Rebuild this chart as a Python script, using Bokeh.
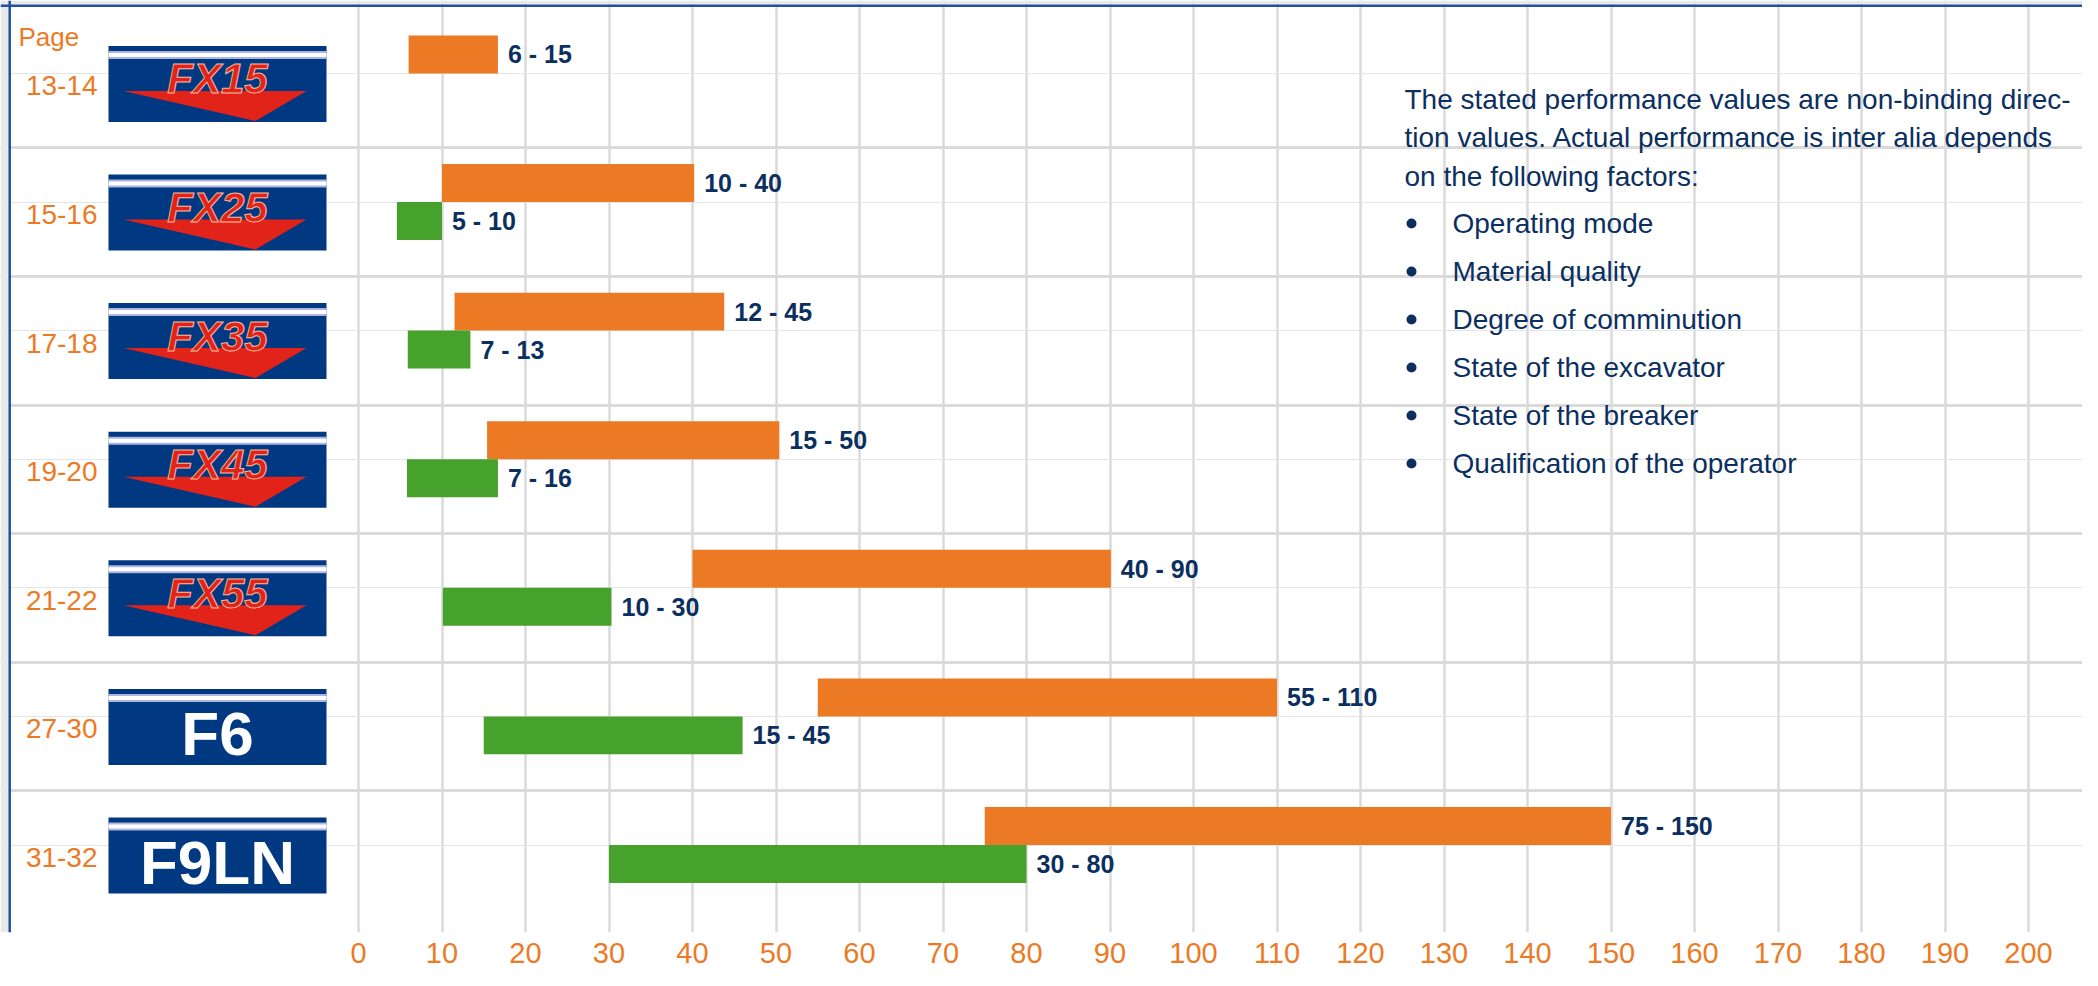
import math
from bokeh.plotting import figure
from bokeh.models import Range1d, FixedTicker, Grid, Span, ColumnDataSource
from bokeh.core.properties import value
from bokeh.embed import file_html
from bokeh.resources import INLINE

# ---------------- data ----------------
models = ["FX15", "FX25", "FX35", "FX45", "FX55", "F6", "F9LN"]
pages = ["13-14", "15-16", "17-18", "19-20", "21-22", "27-30", "31-32"]
orange_lo = [6, 10, 11.5, 15.4, 40, 55, 75]
orange_hi = [16.7, 40.2, 43.8, 50.4, 90.1, 110, 150]
orange_txt = ["6 - 15", "10 - 40", "12 - 45", "15 - 50", "40 - 90", "55 - 110", "75 - 150"]
green_lo = [None, 4.6, 5.9, 5.8, 10.1, 15, 30]
green_hi = [None, 10, 13.4, 16.7, 30.3, 46, 80]
green_txt = [None, "5 - 10", "7 - 13", "7 - 16", "10 - 30", "15 - 45", "30 - 80"]
x_ticks = list(range(0, 201, 10))
note_lines = [
    "The stated performance values are non-binding direc-",
    "tion values. Actual performance is inter alia depends",
    "on the following factors:",
]
factors = [
    "Operating mode",
    "Material quality",
    "Degree of comminution",
    "State of the excavator",
    "State of the breaker",
    "Qualification of the operator",
]

# ---------------- style / layout ----------------
FONT = "Liberation Sans"
ORANGE = "#ec7a25"
GREEN = "#46a12d"
NAVY = "#0b2f5f"
GRID = "#dadada"
LOGO_BLUE = "#003882"
LOGO_RED = "#e2231a"
FRAME_BLUE = "#23509c"
PAGE_GRAY = "#e8eaea"

FIG_W, FIG_H = 2082, 970
FRAME_H = 932
PX0, PXU = 358.0, 8.35        # pixel x of value 0, pixels per unit
ROW0, ROWP = 72.9, 128.6      # pixel y of first row junction, row pitch


def px(X):
    return (X - PX0) / PXU


def py(Y):
    return (Y - ROW0) / ROWP


p = figure(width=FIG_W, height=FIG_H, frame_width=FIG_W, frame_height=FRAME_H,
           x_range=Range1d(px(0), px(FIG_W)),
           y_range=Range1d(py(FRAME_H), py(0)),
           output_backend="svg", toolbar_location=None,
           y_axis_location=None, x_axis_location="below",
           min_border_left=0, min_border_right=0, min_border_top=0, min_border_bottom=FIG_H - FRAME_H,
           background_fill_color="white", border_fill_color="white")
p.outline_line_color = None

ax = p.xaxis[0]
ax.ticker = FixedTicker(ticks=x_ticks)
ax.axis_line_color = None
ax.major_tick_line_color = None
ax.minor_tick_line_color = None
ax.major_label_text_color = ORANGE
ax.major_label_text_font = FONT
ax.major_label_text_font_size = "29px"
ax.major_label_standoff = 4

p.xgrid.ticker = FixedTicker(ticks=x_ticks)
p.xgrid.grid_line_color = GRID
p.xgrid.grid_line_width = 2.5

n = len(models)
p.add_layout(Grid(dimension=1, ticker=FixedTicker(ticks=[i - 0.42 for i in range(1, n)]),
                  grid_line_color=GRID, grid_line_width=3))

# page background outside the framed box + frame lines
p.quad(left=[px(0), px(0)], right=[px(8), px(FIG_W)], top=[py(0), py(0)], bottom=[py(FRAME_H), py(4)],
       fill_color=PAGE_GRAY, line_color=None)
p.add_layout(Span(location=px(9.2), dimension="height", line_color=FRAME_BLUE, line_width=2.5))
p.add_layout(Span(location=py(5.2), dimension="width", line_color=FRAME_BLUE, line_width=2.5))

# ---------------- bars ----------------
BAR_H = 0.295
osrc = ColumnDataSource(dict(y=[i - BAR_H / 2 for i in range(n)], lo=orange_lo, hi=orange_hi, t=orange_txt))
gi = [i for i in range(n) if green_lo[i] is not None]
gsrc = ColumnDataSource(dict(y=[i + BAR_H / 2 for i in gi], lo=[green_lo[i] for i in gi],
                             hi=[green_hi[i] for i in gi], t=[green_txt[i] for i in gi]))
for src, col in ((osrc, ORANGE), (gsrc, GREEN)):
    p.hbar(y="y", left="lo", right="hi", height=BAR_H, source=src, fill_color=col, line_color=None)
    p.text(x="hi", y="y", text="t", source=src, x_offset=10, text_baseline="middle", text_align="left",
           text_font=value(FONT), text_font_size="25px", text_font_style="bold", text_color=NAVY)

# ---------------- logos & page labels ----------------
LOGO_CX = 217
LOGO_W, LOGO_H = 218, 76
logo_cy = [i + 10.5 / ROWP for i in range(n)]
p.rect(x=[px(LOGO_CX)] * n, y=logo_cy, width=LOGO_W, height=LOGO_H,
       width_units="screen", height_units="screen", fill_color=LOGO_BLUE, line_color=None)
p.rect(x=[px(LOGO_CX)] * n, y=[c - 29 / ROWP for c in logo_cy], width=LOGO_W, height=8,
       width_units="screen", height_units="screen", fill_color="#aeb6de", line_color=None)
p.rect(x=[px(LOGO_CX)] * n, y=[c - 29 / ROWP for c in logo_cy], width=LOGO_W, height=4,
       width_units="screen", height_units="screen", fill_color="white", line_color=None)

fx = [i for i in range(n) if models[i].startswith("FX")]
plain = [i for i in range(n) if not models[i].startswith("FX")]
left = LOGO_CX - LOGO_W / 2
xs, ys = [], []
for i in fx:
    top = logo_cy[i] - 38 / ROWP
    xs.append([px(left + 15), px(left + 198), px(left + 147)])
    ys.append([top + 45 / ROWP, top + 45 / ROWP, top + 75 / ROWP])
p.patches(xs=xs, ys=ys, fill_color=LOGO_RED, line_color=None)

p.text(x=[px(LOGO_CX)] * len(fx), y=[logo_cy[i] - 5 / ROWP for i in fx], text=[models[i] for i in fx],
       text_align="center", text_baseline="middle", text_font=value(FONT),
       text_font_size="42px", text_font_style="bold italic", text_color=LOGO_RED,
       text_outline_color="#f5b99a")
p.text(x=[px(LOGO_CX)] * len(plain), y=[logo_cy[i] + 7 / ROWP for i in plain],
       text=[models[i] for i in plain], text_align="center", text_baseline="middle",
       text_font=value(FONT), text_font_size="62px", text_font_style="bold", text_color="white")

p.text(x=[px(97)] * n, y=[c + 2 / ROWP for c in logo_cy], text=pages, text_align="right",
       text_baseline="middle", text_font=value(FONT), text_font_size="28px", text_color=ORANGE)
p.text(x=[px(18)], y=[py(36)], text=["Page"], text_align="left", text_baseline="middle",
       text_font=value(FONT), text_font_size="26px", text_color=ORANGE)

# ---------------- note ----------------
p.text(x=[px(1404)] * len(note_lines), y=[py(99 + 38.3 * k) for k in range(len(note_lines))],
       text=note_lines, text_align="left", text_baseline="middle",
       text_font=value(FONT), text_font_size="28px", text_color=NAVY)
fy = [py(223 + 48 * k) for k in range(len(factors))]
p.scatter(x=[px(1411)] * len(factors), y=fy, size=10, fill_color=NAVY, line_color=None)
p.text(x=[px(1452)] * len(factors), y=fy, text=factors, text_align="left", text_baseline="middle",
       text_font=value(FONT), text_font_size="28px", text_color=NAVY)

open("out.html", "w").write(file_html(p, INLINE))
